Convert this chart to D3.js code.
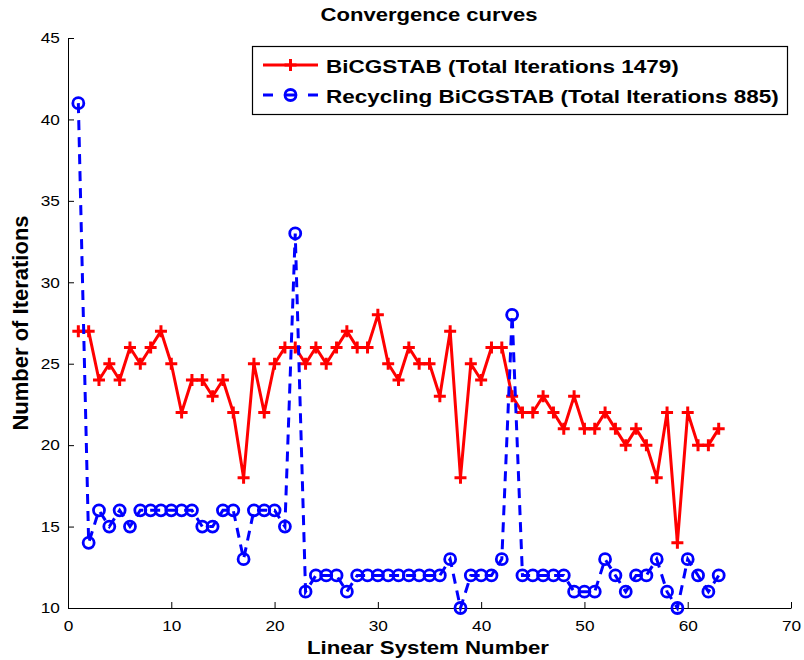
<!DOCTYPE html>
<html>
<head>
<meta charset="utf-8">
<script src="https://d3js.org/d3.v7.min.js"></script>
<style>
	body { margin: 0; background: #fff; }
	text { font-family: "Liberation Sans", Arial, sans-serif; }
</style>
</head>
<body>
<svg id="chart"></svg>
<script>
/*=================
=== The data
=================*/
var systemNumbers = d3.range(1, 64);

var bicgstab = [27, 27, 24, 25, 24, 26, 25, 26, 27, 25,
	22, 24, 24, 23, 24, 22, 18, 25, 22, 25,
	26, 26, 25, 26, 25, 26, 27, 26, 26, 28,
	25, 24, 26, 25, 25, 23, 27, 18, 25, 24,
	26, 26, 23, 22, 22, 23, 22, 21, 23, 21,
	21, 22, 21, 20, 21, 20, 18, 22, 14, 22,
	20, 20, 21];

var recycling = [41, 14, 16, 15, 16, 15, 16, 16, 16, 16,
	16, 16, 15, 15, 16, 16, 13, 16, 16, 16,
	15, 33, 11, 12, 12, 12, 11, 12, 12, 12,
	12, 12, 12, 12, 12, 12, 13, 10, 12, 12,
	12, 13, 28, 12, 12, 12, 12, 12, 11, 11,
	11, 13, 12, 11, 12, 12, 13, 11, 10, 13,
	12, 11, 12];

var xTicks = [0, 10, 20, 30, 40, 50, 60, 70];
var yTicks = [10, 15, 20, 25, 30, 35, 40, 45];
var legendLabels = ['BiCGSTAB (Total Iterations 1479)', 'Recycling BiCGSTAB (Total Iterations 885)'];

/*=================
=== The vars
=================*/
var width = 804, height = 660;
var margin = { left: 68, right: 13, top: 38, bottom: 52 };

var svg = d3.select('#chart')
	.attr('width', width)
	.attr('height', height);

var x = d3.scaleLinear().domain([0, 70]).range([margin.left, width - margin.right]);
var y = d3.scaleLinear().domain([10, 45]).range([height - margin.bottom, margin.top]);

var myLine = d3.line()
	.x(function (d, i) { return x(systemNumbers[i]); })
	.y(function (d) { return y(d); });

// the picture's text is a bit wide, so stretch it sideways
function wideText(g, tx, ty, size, sx, str) {
	return g.append('text')
		.attr('transform', 'translate(' + tx + ',' + ty + ') scale(' + sx + ',1)')
		.style('font-size', size + 'px')
		.style('font-weight', 'bold')
		.text(str);
}

// axes, ticks pointing inward like matlab
var xAxis = svg.append('g')
	.attr('transform', 'translate(0,' + y(10) + ')')
	.call(d3.axisBottom(x).tickValues(xTicks).tickSizeInner(-6).tickSizeOuter(0).tickPadding(12));

var yAxis = svg.append('g')
	.attr('transform', 'translate(' + x(0) + ',0)')
	.call(d3.axisLeft(y).tickValues(yTicks).tickSizeInner(-6).tickSizeOuter(0).tickPadding(7));

[xAxis, yAxis].forEach(function (a) {
	a.selectAll('text')
		.style('font-size', '15px')
		.attr('fill', '#000')
		.attr('transform', 'scale(1.15,1)');
	a.selectAll('line').attr('stroke', '#000');
	a.select('.domain').attr('stroke', '#000');
});

// red line
svg.append('path')
	.datum(bicgstab)
	.attr('fill', 'none')
	.attr('stroke', '#ff0000')
	.attr('stroke-width', 3)
	.attr('stroke-linejoin', 'round')
	.attr('d', myLine);

svg.selectAll('.plus')
	.data(bicgstab)
	.enter()
	.append('path')
	.attr('class', 'plus')
	.attr('d', function (d, i) {
		var cx = x(systemNumbers[i]), cy = y(d);
		return 'M' + (cx - 6) + ',' + cy + 'H' + (cx + 6) + 'M' + cx + ',' + (cy - 6) + 'V' + (cy + 6);
	})
	.attr('stroke', '#ff0000')
	.attr('stroke-width', 3);

// blue dashed line
svg.append('path')
	.datum(recycling)
	.attr('fill', 'none')
	.attr('stroke', '#0000ff')
	.attr('stroke-width', 3)
	.attr('stroke-dasharray', '10,7')
	.attr('d', myLine);

svg.selectAll('.circ')
	.data(recycling)
	.enter()
	.append('circle')
	.attr('class', 'circ')
	.attr('cx', function (d, i) { return x(systemNumbers[i]); })
	.attr('cy', function (d) { return y(d); })
	.attr('r', 5.5)
	.attr('fill', 'none')
	.attr('stroke', '#0000ff')
	.attr('stroke-width', 2.8);

// title + labels
wideText(svg, 429, 21, 18.7, 1.18, 'Convergence curves').attr('text-anchor', 'middle');
wideText(svg, 428, 654, 19, 1.17, 'Linear System Number').attr('text-anchor', 'middle');

svg.append('text')
	.attr('transform', 'translate(28,323) rotate(-90)')
	.attr('text-anchor', 'middle')
	.style('font-size', '22px').style('font-weight', 'bold')
	.text('Number of Iterations');

// legend
var legend = svg.append('g');
legend.append('rect')
	.attr('x', 252.5).attr('y', 46.5)
	.attr('width', 535).attr('height', 68)
	.attr('fill', '#fff').attr('stroke', '#000').attr('stroke-width', 1.2);

legendLabels.forEach(function (lab, i) {
	var ly = 65 + i * 30;
	legend.append('line')
		.attr('x1', 263).attr('x2', 318).attr('y1', ly).attr('y2', ly)
		.attr('stroke', i === 0 ? '#ff0000' : '#0000ff')
		.attr('stroke-width', 3)
		.attr('stroke-dasharray', i === 0 ? null : '10,12,11,12,10');
	if (i === 0) {
		legend.append('path')
			.attr('d', 'M284.5,' + ly + 'H296.5M290.5,' + (ly - 6) + 'V' + (ly + 6))
			.attr('stroke', '#ff0000').attr('stroke-width', 3);
	} else {
		legend.append('circle')
			.attr('cx', 290.5).attr('cy', ly).attr('r', 5.5)
			.attr('fill', 'none').attr('stroke', '#0000ff').attr('stroke-width', 2.8);
	}
	wideText(legend, 326, ly + 7.5, 18.6, 1.21, lab);
});
</script>
</body>
</html>
